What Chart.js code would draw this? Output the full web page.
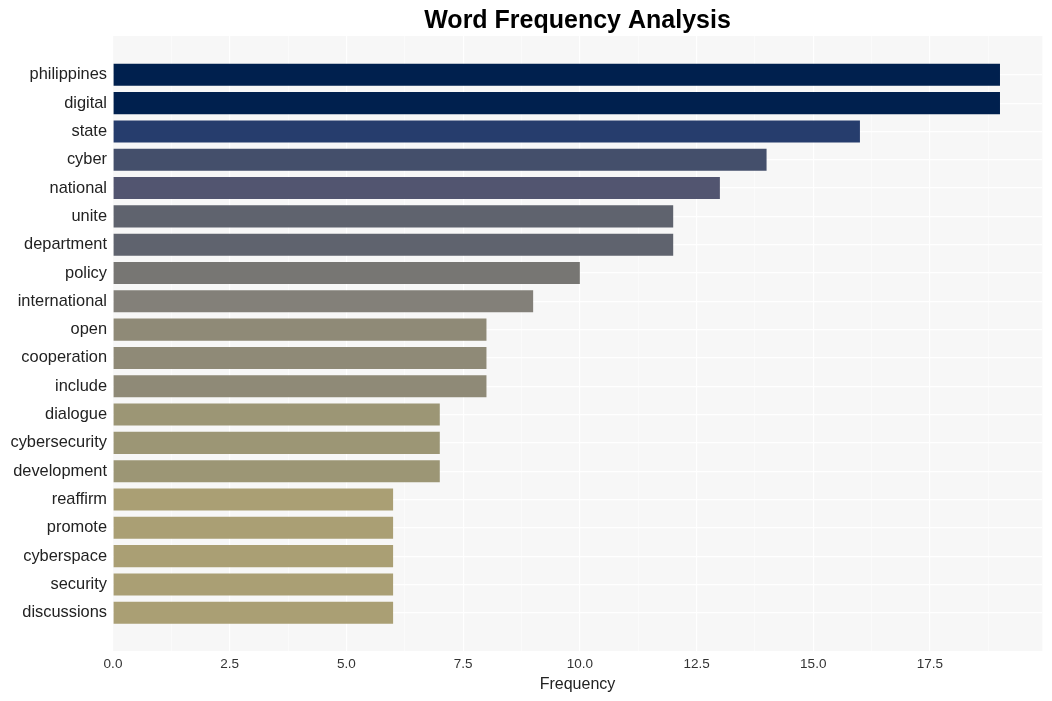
<!DOCTYPE html>
<html>
<head>
<meta charset="utf-8">
<script src="https://cdn.jsdelivr.net/npm/chart.js@4.4.1/dist/chart.umd.min.js"></script>
<style>
  html, body { margin: 0; padding: 0; background: #ffffff; }
  #wrap { width: 1052px; height: 701px; }
</style>
</head>
<body>
<div id="wrap"><canvas id="c" width="1052" height="701"></canvas></div>
<script>
const categories = ["philippines","digital","state","cyber","national","unite","department","policy","international","open","cooperation","include","dialogue","cybersecurity","development","reaffirm","promote","cyberspace","security","discussions"];
const frequencies = [19,19,16,14,13,12,12,10,9,8,8,8,7,7,7,6,6,6,6,6];
const barColors = ["#00204e","#00204e","#263d6d","#444f6b","#525570","#5f636e","#5f636e","#777673","#838079","#8f8a77","#8f8a77","#8f8a77","#9c9675","#9c9675","#9c9675","#aa9f74","#aa9f74","#aa9f74","#aa9f74","#aa9f74"];
const xTickStep = 1.25;

const bgPlugin = {
  id: 'panelBg',
  beforeDraw(chart) {
    const a = chart.chartArea, ctx = chart.ctx;
    ctx.save();
    ctx.fillStyle = '#f7f7f7';
    ctx.fillRect(a.left, a.top, a.right - a.left, a.bottom - a.top);
    ctx.restore();
  }
};

const isMajor = (v) => Math.abs(v / 2.5 - Math.round(v / 2.5)) < 1e-6;

new Chart(document.getElementById('c'), {
  type: 'bar',
  data: {
    datasets: [{
      data: frequencies.map((v, i) => ({x: v, y: i})),
      backgroundColor: barColors,
      borderWidth: 0,
      barPercentage: 0.78,
      categoryPercentage: 1.0
    }]
  },
  options: {
    indexAxis: 'y',
    responsive: false,
    animation: false,
    layout: { padding: { left: 0, right: 10, top: 0, bottom: 0 } },
    plugins: {
      legend: { display: false },
      tooltip: { enabled: false },
      title: {
        display: true,
        text: 'Word Frequency Analysis',
        fullSize: false,
        color: '#000000',
        font: { family: 'Liberation Sans, Arial, sans-serif', size: 25, weight: 'bold' },
        padding: { top: 6, bottom: 0 }
      }
    },
    scales: {
      x: {
        type: 'linear',
        position: 'bottom',
        bounds: 'data',
        min: 0,
        max: 19.9,
        border: { display: false },
        grid: {
          drawTicks: false,
          color: (ctx) => (ctx.tick && isMajor(ctx.tick.value)) ? '#ffffff' : '#fbfbfb',
          lineWidth: (ctx) => (ctx.tick && isMajor(ctx.tick.value)) ? 1.2 : 0.8
        },
        ticks: {
          stepSize: xTickStep,
          includeBounds: false,
          autoSkip: false,
          maxRotation: 0,
          padding: 5,
          color: '#333333',
          font: { family: 'Liberation Sans, Arial, sans-serif', size: 13.5 },
          callback: (v) => isMajor(v) ? v.toFixed(1) : ''
        },
        title: {
          display: true,
          text: 'Frequency',
          color: '#222222',
          font: { family: 'Liberation Sans, Arial, sans-serif', size: 16 },
          padding: { top: 3, bottom: 7 }
        },
        afterFit: (s) => { s.height = 50; }
      },
      y: {
        type: 'linear',
        reverse: true,
        bounds: 'data',
        offset: false,
        min: -1.37,
        max: 20.35,
        border: { display: false },
        grid: { drawTicks: false, offset: false, color: '#ffffff', lineWidth: 1.2 },
        afterBuildTicks: (s) => { s.ticks = categories.map((_, i) => ({ value: i })); },
        ticks: {
          autoSkip: false,
          padding: 6,
          color: '#222222',
          font: { family: 'Liberation Sans, Arial, sans-serif', size: 16.4 },
          callback: (v) => categories[v] !== undefined ? categories[v] : ''
        },
        afterFit: (s) => { s.width = 113; }
      }
    }
  },
  plugins: [bgPlugin]
});
</script>
</body>
</html>
